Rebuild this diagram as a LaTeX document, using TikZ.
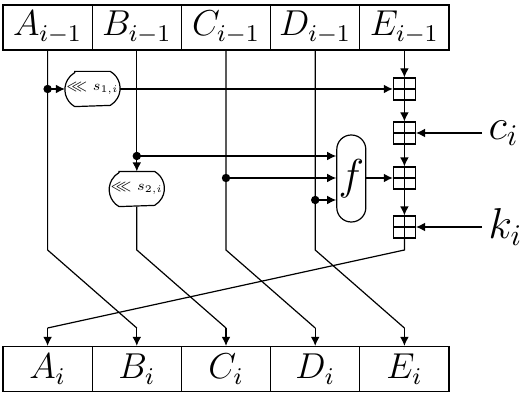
\documentclass[tikz,border=0pt]{standalone}
\usepackage{amssymb}
\usepackage{graphicx}
\usetikzlibrary{arrows.meta,calc}
\newcommand\rottext[1]{\hbox to 18pt{\hss\resizebox{7pt}{!}{$\lll$}\hskip 1.8pt\resizebox{8.6pt}{!}{$s_{#1,i}$}\hss}}
\begin{document}
\begin{tikzpicture}[x=0.33333pt,y=-0.33333pt,
  reg/.style={draw,rectangle,minimum width=29.73pt,minimum height=15pt,inner sep=0pt,font=\fontsize{12}{14}\selectfont},
  rot/.style={rectangle,minimum width=18pt,minimum height=11.33pt,inner sep=0pt,font=\fontsize{7}{8}\selectfont},
  fbox/.style={draw,rectangle,rounded corners=4.8pt,minimum width=9.67pt,minimum height=29pt,inner sep=0pt,font=\fontsize{14.4}{16}\selectfont},
  adder/.style={draw,rectangle,minimum size=7.33pt,inner sep=0pt,
    path picture={\draw (path picture bounding box.north) -- (path picture bounding box.south)
      (path picture bounding box.west) -- (path picture bounding box.east);}},
  lbl/.style={inner sep=2pt,font=\fontsize{14.4}{16}\selectfont},
  arr/.style={-{Latex[length=3pt,width=2.9pt]}},
  dot/.style={circle,fill,inner sep=0pt,minimum size=2.8pt}]
\useasboundingbox (0,0) rectangle (520,400);
% top registers
\node[reg] (tA) at (47.6,27.5) {$A_{i-1}$};
\node[reg] (tB) at (136.8,27.5) {$B_{i-1}$};
\node[reg] (tC) at (226,27.5) {$C_{i-1}$};
\node[reg] (tD) at (315.2,27.5) {$D_{i-1}$};
\node[reg] (tE) at (404.4,27.5) {$E_{i-1}$};
% bottom registers
\node[reg] (bA) at (47.6,369) {$A_{i}$};
\node[reg] (bB) at (136.8,369) {$B_{i}$};
\node[reg] (bC) at (226,369) {$C_{i}$};
\node[reg] (bD) at (315.2,369) {$D_{i}$};
\node[reg] (bE) at (404.4,369) {$E_{i}$};
% rotations
\node[rot] (s1) at (92.5,89) {\rottext{1}};
\node[rot] (s2) at (136.8,189) {\rottext{2}};
\foreach \n in {s1,s2}{
  \draw ([xshift=3.27pt]\n.north west) -- ([xshift=-3.27pt]\n.north east)
    arc[start angle=60,end angle=-60,radius=6.54pt]
    -- ([xshift=3.27pt]\n.south west)
    arc[start angle=240,end angle=120,radius=6.54pt] -- cycle;
}
% f
\node[fbox] (f) at (351.3,178.5) {$f$};
% adders
\node[adder] (a1) at (404.4,89) {};
\node[adder] (a2) at (404.4,133) {};
\node[adder] (a3) at (404.4,178) {};
\node[adder] (a4) at (404.4,227) {};
% constants
\node[lbl,anchor=west] (c) at (482,133) {$c_i$};
\node[lbl,anchor=west] (k) at (482,227) {$k_i$};
% dots
\node[dot] (dA) at (47.6,89) {};
\node[dot] (dB) at (136.8,156) {};
\node[dot] (dC) at (226,178) {};
\node[dot] (dD) at (315.2,200) {};
% bend coordinates
\coordinate (uA) at (47.6,250);
\coordinate (uB) at (136.8,250);
\coordinate (uC) at (226,250);
\coordinate (uD) at (315.2,250);
\coordinate (uE) at (404.4,250);
\coordinate (vA) at (47.6,328);
\coordinate (vB) at (136.8,328);
\coordinate (vC) at (226,328);
\coordinate (vD) at (315.2,328);
\coordinate (vE) at (404.4,328);
% A path
\draw (tA.south) -- (dA.center) -- (uA) -- (vB);
\draw[arr] (vB) -- (bB.north);
\draw[arr] (dA.center) -- (s1.west);
\draw[arr] (s1.east) -- (a1.west);
% B path
\draw (tB.south) -- (dB.center);
\draw[arr] (dB.center) -- (s2.north);
\draw[arr] (dB.center) -- (f.west |- dB);
\draw (s2.south) -- (uB) -- (vC);
\draw[arr] (vC) -- (bC.north);
% C path
\draw (tC.south) -- (uC) -- (vD);
\draw[arr] (vD) -- (bD.north);
\draw[arr] (dC.center) -- (f.west |- dC);
% D path
\draw (tD.south) -- (uD) -- (vE);
\draw[arr] (vE) -- (bE.north);
\draw[arr] (dD.center) -- (f.west |- dD);
% E path
\draw[arr] (tE.south) -- (a1.north);
\draw[arr] (a1.south) -- (a2.north);
\draw[arr] (a2.south) -- (a3.north);
\draw[arr] (a3.south) -- (a4.north);
\draw (a4.south) -- (uE) -- (vA);
\draw[arr] (vA) -- (bA.north);
\draw[arr] (f.east |- a3) -- (a3.west);
\draw[arr] (c.west) -- (a2.east);
\draw[arr] (k.west) -- (a4.east);
\end{tikzpicture}
\end{document}
